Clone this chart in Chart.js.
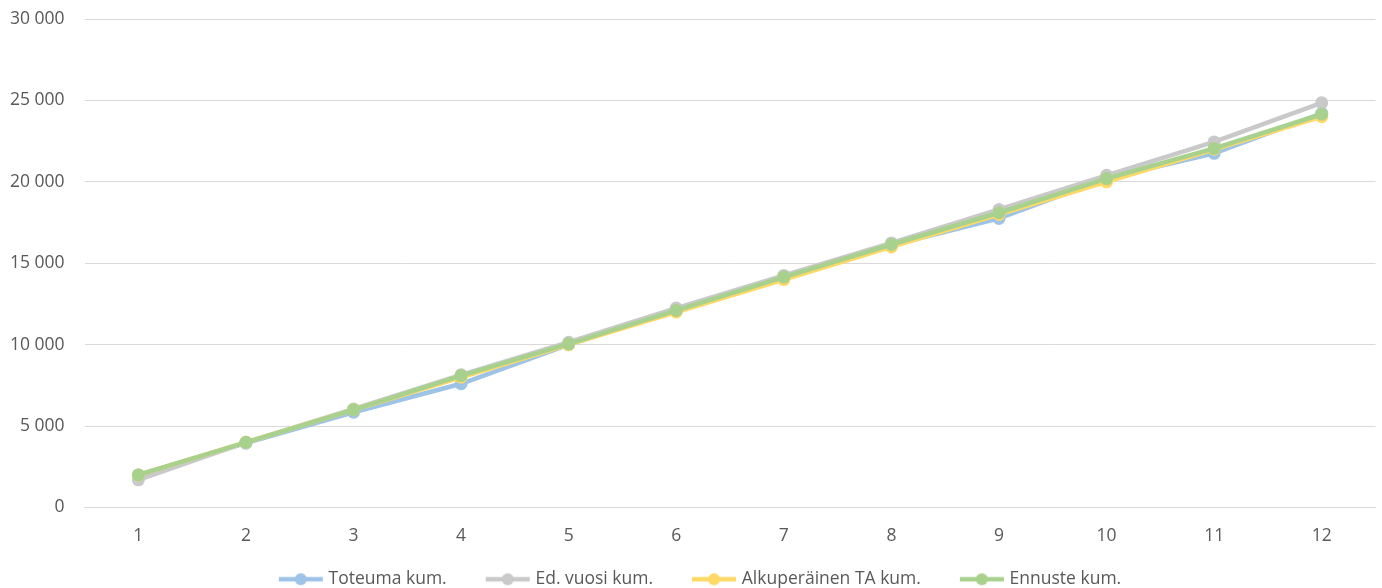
<!DOCTYPE html>
<html>
<head>
<meta charset="utf-8">
<script src="https://cdn.jsdelivr.net/npm/chart.js@4.4.1/dist/chart.umd.min.js"></script>
<style>
  html, body { margin: 0; padding: 0; background: #fff; }
  #wrap { width: 1382px; height: 588px; }
</style>
</head>
<body>
<div id="wrap"><canvas id="chart"></canvas></div>
<script>
const months = ['1', '2', '3', '4', '5', '6', '7', '8', '9', '10', '11', '12']
const toteuma = [2000, 3950, 5850, 7600, 10000, 12100, 14100, 16100, 17750, 20200, 21750, 24200]
const edVuosi = [1700, 4000, 6050, 8150, 10150, 12250, 14250, 16250, 18300, 20400, 22450, 24850]
const alkuperainen = [2000, 4000, 6000, 8000, 10000, 12000, 14000, 16000, 18000, 20000, 22000, 24000]
const ennuste = [2000, 4000, 6000, 8100, 10050, 12100, 14150, 16150, 18100, 20200, 22050, 24150]

const seriesNames = ['Toteuma kum.', 'Ed. vuosi kum.', 'Alkuperäinen TA kum.', 'Ennuste kum.']
const seriesColors = ['#9dc3e6', '#c9c9c9', '#ffd966', '#a9d18e']
// later series sit on top, like in the source sheet
const drawOrder = [3, 2, 1, 0]

// legend marker: short line with a dot, blank space on the left acts as item gap
const BOX_W = 71
function legendIcon(color) {
  const c = document.createElement('canvas')
  c.width = BOX_W + 10
  c.height = 14
  const g = c.getContext('2d')
  g.strokeStyle = color
  g.lineWidth = 4.5
  g.beginPath()
  g.moveTo(35, 7)
  g.lineTo(79, 7)
  g.stroke()
  g.fillStyle = color
  g.beginPath()
  g.arc(57, 7, 6, 0, Math.PI * 2)
  g.fill()
  return c
}

const icons = seriesColors.map(legendIcon)

const fmt = v => String(v).replace(/\B(?=(\d{3})+(?!\d))/g, ' ')

const makeSet = (i, data) => ({
  label: seriesNames[i],
  data: data,
  order: drawOrder[i],
  borderColor: seriesColors[i],
  backgroundColor: seriesColors[i],
  borderWidth: 4.5,
  pointRadius: 6.5,
  pointHoverRadius: 6.5,
  pointBorderWidth: 0,
  tension: 0
})

new Chart(document.getElementById('chart'), {
  type: 'line',
  data: {
    labels: months,
    datasets: [
      makeSet(0, toteuma),
      makeSet(1, edVuosi),
      makeSet(2, alkuperainen),
      makeSet(3, ennuste)
    ]
  },
  options: {
    responsive: true,
    maintainAspectRatio: false,
    animation: false,
    layout: { padding: { top: 19, right: 2, left: -10, bottom: -10 } },
    plugins: {
      tooltip: { enabled: false },
      legend: {
        position: 'bottom',
        labels: {
          usePointStyle: true,
          pointStyleWidth: BOX_W,
          padding: 9,
          color: '#595959',
          font: { family: 'Open Sans', size: 17.5 },
          generateLabels(chart) {
            const items = Chart.defaults.plugins.legend.labels.generateLabels(chart)
            items.sort((a, b) => a.datasetIndex - b.datasetIndex)
            items.forEach(it => { it.pointStyle = icons[it.datasetIndex] })
            return items
          }
        }
      }
    },
    scales: {
      x: {
        offset: true,
        grid: { display: false },
        border: { color: '#d9d9d9', width: 1 },
        afterFit: s => { s.height += 5; s.paddingRight = 0 },
        ticks: {
          color: '#595959',
          font: { family: 'Open Sans', size: 17.5 },
          padding: 10
        }
      },
      y: {
        min: 0,
        max: 30000,
        grid: { color: '#d9d9d9', drawTicks: false },
        border: { display: false },
        // label gap is wide, but it should not push the plot down
        afterFit: s => { s.paddingTop = 10; s.paddingBottom = 10 },
        ticks: {
          stepSize: 5000,
          color: '#595959',
          font: { family: 'Open Sans', size: 17.5 },
          padding: 20,
          callback: v => fmt(v)
        }
      }
    }
  }
})
</script>
</body>
</html>
